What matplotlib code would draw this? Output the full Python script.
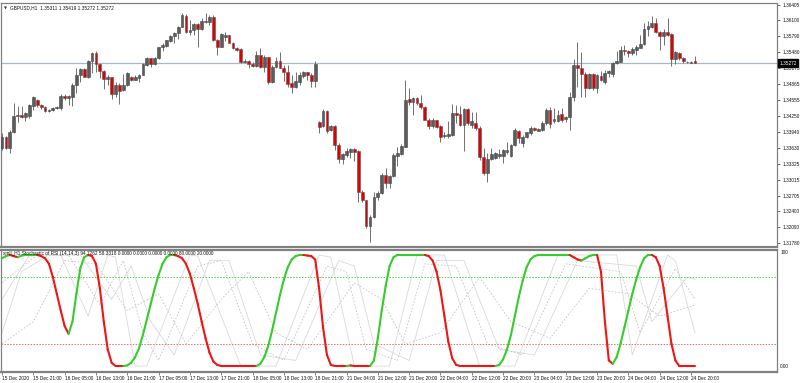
import numpy as np
import matplotlib.pyplot as plt
from matplotlib.collections import LineCollection
import matplotlib.transforms as mtransforms

plt.rcParams['font.family'] = ['Liberation Sans', 'DejaVu Sans']

# GBPUSD H1 candles
opens = [1.3363, 1.3384, 1.3363, 1.3394, 1.3425, 1.3427, 1.3423, 1.3425, 1.3444, 1.3456,
         1.3447, 1.3442, 1.3435, 1.3437, 1.3440, 1.3440, 1.3464, 1.3460, 1.3462, 1.3485,
         1.3504, 1.3515, 1.3501, 1.3532, 1.3546, 1.3525, 1.3512, 1.3497, 1.3500, 1.3468,
         1.3485, 1.3475, 1.3485, 1.3501, 1.3495, 1.3499, 1.3504, 1.3524, 1.3537, 1.3525,
         1.3537, 1.3558, 1.3561, 1.3571, 1.3579, 1.3585, 1.3598, 1.3619, 1.3587, 1.3591,
         1.3603, 1.3593, 1.3608, 1.3607, 1.3617, 1.3572, 1.3559, 1.3578, 1.3581, 1.3567,
         1.3556, 1.3554, 1.3529, 1.3532, 1.3525, 1.3522, 1.3543, 1.3520, 1.3539, 1.3490,
         1.3520, 1.3532, 1.3518, 1.3511, 1.3488, 1.3482, 1.3491, 1.3502, 1.3510, 1.3504,
         1.3493, 1.3413, 1.3405, 1.3435, 1.3398, 1.3405, 1.3368, 1.3341, 1.3349, 1.3356,
         1.3360, 1.3357, 1.3278, 1.3262, 1.3212, 1.3229, 1.3267, 1.3275, 1.3311, 1.3295,
         1.3309, 1.3347, 1.3351, 1.3365, 1.3458, 1.3451, 1.3459, 1.3450, 1.3443, 1.3418,
         1.3405, 1.3417, 1.3405, 1.3386, 1.3386, 1.3388, 1.3430, 1.3429, 1.3407, 1.3438,
         1.3407, 1.3411, 1.3402, 1.3345, 1.3314, 1.3341, 1.3343, 1.3347, 1.3347, 1.3355,
         1.3347, 1.3368, 1.3396, 1.3372, 1.3384, 1.3391, 1.3402, 1.3396, 1.3398, 1.3411,
         1.3437, 1.3416, 1.3416, 1.3428, 1.3419, 1.3422, 1.3461, 1.3524, 1.3518, 1.3506,
         1.3479, 1.3506, 1.3479, 1.3503, 1.3490, 1.3509, 1.3506, 1.3527, 1.3530, 1.3553,
         1.3550, 1.3546, 1.3553, 1.3557, 1.3564, 1.3593, 1.3597, 1.3606, 1.3587, 1.3579,
         1.3588, 1.3583, 1.3535, 1.3546, 1.3537, 1.3530, 1.3529, 1.35311]
highs = [1.3392, 1.3386, 1.3398, 1.3450, 1.3444, 1.3444, 1.3433, 1.3448, 1.3464, 1.3458,
         1.3448, 1.3444, 1.3438, 1.3442, 1.3444, 1.3468, 1.3468, 1.3466, 1.3489, 1.3518,
         1.3518, 1.3518, 1.3533, 1.3549, 1.3551, 1.3528, 1.3514, 1.3504, 1.3501, 1.3491,
         1.3489, 1.3506, 1.3510, 1.3502, 1.3504, 1.3506, 1.3528, 1.3539, 1.3538, 1.3540,
         1.3559, 1.3566, 1.3573, 1.3582, 1.3587, 1.3600, 1.3624, 1.3622, 1.3610, 1.3605,
         1.3605, 1.3614, 1.3624, 1.3621, 1.3621, 1.3574, 1.3585, 1.3587, 1.3582, 1.3569,
         1.3558, 1.3556, 1.3535, 1.3533, 1.3529, 1.3550, 1.3556, 1.3543, 1.3540, 1.3524,
         1.3539, 1.3548, 1.3524, 1.3524, 1.3504, 1.3511, 1.3511, 1.3512, 1.3511, 1.3508,
         1.3532, 1.3416, 1.3438, 1.3437, 1.3407, 1.3407, 1.3372, 1.3353, 1.3362, 1.3362,
         1.3362, 1.3359, 1.3282, 1.3263, 1.3233, 1.3278, 1.3280, 1.3314, 1.3324, 1.3311,
         1.3353, 1.3365, 1.3370, 1.3495, 1.3479, 1.3462, 1.3461, 1.3466, 1.3444, 1.3421,
         1.3421, 1.3418, 1.3407, 1.3393, 1.3415, 1.3448, 1.3446, 1.3444, 1.3440, 1.3440,
         1.3433, 1.3433, 1.3405, 1.3362, 1.3353, 1.3362, 1.3356, 1.3360, 1.3360, 1.3374,
         1.3370, 1.3401, 1.3398, 1.3388, 1.3394, 1.3405, 1.3404, 1.3402, 1.3415, 1.3440,
         1.3442, 1.3440, 1.3437, 1.3440, 1.3425, 1.3472, 1.3535, 1.3569, 1.3548, 1.3511,
         1.3509, 1.3509, 1.3506, 1.3512, 1.3514, 1.3514, 1.3530, 1.3550, 1.3561, 1.3562,
         1.3553, 1.3559, 1.3562, 1.3582, 1.3605, 1.3608, 1.3619, 1.3614, 1.3590, 1.3593,
         1.3614, 1.3585, 1.3550, 1.3548, 1.3539, 1.3532, 1.3531, 1.35419]
lows = [1.3359, 1.3361, 1.3353, 1.3392, 1.3413, 1.3421, 1.3415, 1.3421, 1.3437, 1.3442,
        1.3438, 1.3433, 1.3433, 1.3435, 1.3438, 1.3437, 1.3456, 1.3446, 1.3444, 1.3470,
        1.3491, 1.3500, 1.3499, 1.3508, 1.3510, 1.3499, 1.3477, 1.3485, 1.3458, 1.3462,
        1.3448, 1.3473, 1.3483, 1.3493, 1.3495, 1.3491, 1.3504, 1.3522, 1.3520, 1.3524,
        1.3535, 1.3551, 1.3559, 1.3568, 1.3567, 1.3575, 1.3597, 1.3585, 1.3582, 1.3582,
        1.3559, 1.3591, 1.3605, 1.3601, 1.3571, 1.3543, 1.3558, 1.3571, 1.3566, 1.3554,
        1.3550, 1.3528, 1.3528, 1.3517, 1.3520, 1.3520, 1.3517, 1.3511, 1.3486, 1.3488,
        1.3517, 1.3517, 1.3493, 1.3481, 1.3469, 1.3479, 1.3485, 1.3498, 1.3495, 1.3482,
        1.3482, 1.3391, 1.3404, 1.3391, 1.3396, 1.3359, 1.3334, 1.3332, 1.3346, 1.3343,
        1.3338, 1.3259, 1.3259, 1.3207, 1.3181, 1.3227, 1.3262, 1.3274, 1.3285, 1.3285,
        1.3307, 1.3327, 1.3349, 1.3364, 1.3446, 1.3427, 1.3446, 1.3439, 1.3417, 1.3399,
        1.3402, 1.3401, 1.3375, 1.3382, 1.3382, 1.3386, 1.3411, 1.3405, 1.3357, 1.3407,
        1.3401, 1.3398, 1.3340, 1.3311, 1.3297, 1.3340, 1.3341, 1.3343, 1.3334, 1.3351,
        1.3346, 1.3367, 1.3372, 1.3365, 1.3382, 1.3388, 1.3396, 1.3395, 1.3396, 1.3407,
        1.3401, 1.3412, 1.3414, 1.3414, 1.3414, 1.3398, 1.3454, 1.3482, 1.3462, 1.3462,
        1.3477, 1.3475, 1.3470, 1.3493, 1.3487, 1.3500, 1.3500, 1.3526, 1.3529, 1.3543,
        1.3540, 1.3543, 1.3543, 1.3556, 1.3562, 1.3579, 1.3595, 1.3585, 1.3553, 1.3562,
        1.3579, 1.3522, 1.3526, 1.3533, 1.3528, 1.3528, 1.3528, 1.35272]
closes = [1.3384, 1.3363, 1.3394, 1.3425, 1.3427, 1.3422, 1.3431, 1.3446, 1.3461, 1.3446,
          1.3442, 1.3435, 1.3437, 1.3441, 1.3442, 1.3464, 1.3460, 1.3463, 1.3485, 1.3504,
          1.3515, 1.3501, 1.3532, 1.3546, 1.3525, 1.3512, 1.3497, 1.3500, 1.3468, 1.3485,
          1.3474, 1.3485, 1.3509, 1.3495, 1.3501, 1.3504, 1.3525, 1.3537, 1.3525, 1.3538,
          1.3558, 1.3562, 1.3572, 1.3580, 1.3585, 1.3598, 1.3621, 1.3587, 1.3591, 1.3603,
          1.3593, 1.3608, 1.3607, 1.3617, 1.3572, 1.3559, 1.3583, 1.3581, 1.3567, 1.3556,
          1.3553, 1.3529, 1.3532, 1.3525, 1.3522, 1.3543, 1.3520, 1.3540, 1.3490, 1.3520,
          1.3532, 1.3518, 1.3511, 1.3487, 1.3481, 1.3493, 1.3504, 1.3510, 1.3504, 1.3493,
          1.3526, 1.3403, 1.3435, 1.3396, 1.3405, 1.3368, 1.3341, 1.3351, 1.3357, 1.3361,
          1.3355, 1.3278, 1.3262, 1.3212, 1.3229, 1.3267, 1.3276, 1.3311, 1.3295, 1.3309,
          1.3349, 1.3353, 1.3367, 1.3456, 1.3451, 1.3459, 1.3450, 1.3443, 1.3418, 1.3405,
          1.3417, 1.3404, 1.3384, 1.3388, 1.3389, 1.3430, 1.3427, 1.3407, 1.3438, 1.3411,
          1.3415, 1.3402, 1.3345, 1.3314, 1.3341, 1.3351, 1.3353, 1.3351, 1.3359, 1.3358,
          1.3368, 1.3398, 1.3382, 1.3385, 1.3393, 1.3402, 1.3398, 1.3400, 1.3411, 1.3437,
          1.3409, 1.3419, 1.3427, 1.3417, 1.3422, 1.3461, 1.3524, 1.3518, 1.3506, 1.3479,
          1.3506, 1.3479, 1.3504, 1.3495, 1.3509, 1.3512, 1.3528, 1.3532, 1.3553, 1.3550,
          1.3546, 1.3555, 1.3559, 1.3564, 1.3593, 1.3599, 1.3606, 1.3587, 1.3579, 1.3588,
          1.3582, 1.3535, 1.3548, 1.3537, 1.3532, 1.3529, 1.3528, 1.35272]

# Stochastic of RSI main line, one value per bar
stoch = [97, 99, 100, 99, 98, 99.5, 100, 100, 100, 100,
         99, 97, 92, 80, 65, 50, 36, 29, 40, 65,
         88, 98, 100, 99, 92, 70, 40, 15, 3, 0,
         0, 0, 0.5, 3, 8, 16, 28, 42, 56, 70,
         82, 92, 98, 100, 100, 99, 97, 92, 83, 70,
         56, 40, 25, 12, 4, 1, 0, 0, 0, 0,
         0, 0, 0, 0, 0, 0, 2, 8, 18, 32,
         48, 64, 78, 89, 96, 99, 100, 100, 99.5, 99,
         96, 70, 35, 10, 1, 0, 0, 0, 0, 0.5,
         0, 0, 0, 0, 0, 5, 25, 50, 72, 90,
         98, 100, 100, 100, 100, 100, 100, 100, 100, 99,
         95, 85, 68, 45, 22, 7, 1, 0, 0, 0,
         0, 0, 0, 0, 0, 0, 0, 1, 6, 15,
         28, 45, 62, 77, 89, 96, 99, 100, 100, 100,
         100, 100, 100, 100, 100, 100, 98, 96, 95, 97,
         99, 100, 100, 85, 40, 5, 2, 8, 20, 35,
         50, 65, 78, 89, 97, 100, 100, 98, 90, 70,
         45, 20, 5, 0, 0, 0, 0, 0]

# other (lagging) stochastic lines, drawn thin grey: (bar, value) knots
grey1_x = [0, 7, 15, 22, 27, 29, 34, 37, 48, 50, 61, 70, 81, 84, 90, 99, 106, 113, 122, 131, 142, 157, 161, 170, 172, 177]
grey1_y = [60, 100, 100, 45, 100, 98, 0, 0, 100, 99, 0, 0, 100, 98, 0, 0, 100, 100, 0, 0, 100, 100, 10, 100, 95, 30]
grey2_x = [0, 5, 12, 20, 28, 33, 38, 44, 53, 58, 66, 75, 86, 90, 95, 104, 111, 118, 127, 136, 147, 162, 166, 175, 177]
grey2_y = [30, 85, 100, 100, 60, 90, 40, 10, 95, 95, 10, 5, 95, 90, 20, 5, 95, 95, 15, 10, 95, 90, 40, 80, 78]
grey3_x = [0, 9, 17, 25, 31, 36, 40, 50, 56, 64, 72, 83, 88, 93, 101, 108, 116, 124, 133, 144, 158, 163, 172, 177]
grey3_y = [75, 100, 100, 55, 95, 30, 5, 90, 95, 20, 5, 90, 85, 15, 5, 92, 90, 20, 10, 92, 85, 30, 88, 60]
grey4_x = [0, 8, 16, 24, 32, 40, 47, 56, 63, 70, 78, 90, 97, 103, 112, 122, 130, 140, 150, 160, 168, 177]
grey4_y = [20, 40, 95, 92, 50, 65, 20, 60, 85, 30, 15, 75, 60, 20, 30, 80, 40, 25, 70, 65, 45, 55]

price_ticks = [1.36405, 1.36100, 1.35790, 1.35480, 1.35175, 1.34865, 1.34555, 1.34250,
               1.33940, 1.33630, 1.33325, 1.33015, 1.32705, 1.32400, 1.32090, 1.31780]
time_labels = ['15 Dec 2020', '15 Dec 21:00', '16 Dec 05:00', '16 Dec 13:00', '16 Dec 21:00',
               '17 Dec 05:00', '17 Dec 13:00', '17 Dec 21:00', '18 Dec 05:00', '18 Dec 13:00',
               '18 Dec 21:00', '21 Dec 04:00', '21 Dec 12:00', '21 Dec 20:00', '22 Dec 04:00',
               '22 Dec 12:00', '22 Dec 20:00', '23 Dec 04:00', '23 Dec 12:00', '23 Dec 20:00',
               '24 Dec 04:00', '24 Dec 12:00', '24 Dec 20:00']
last_price = 1.35272

fs = 3.4
frame = '#808080'

fig = plt.figure(figsize=(8, 3.83), dpi=100)
ax = fig.add_axes([1 / 800, 136 / 383, 776 / 800, 244 / 383])
ax2 = fig.add_axes([1 / 800, 11 / 383, 776 / 800, 122 / 383])

n = len(closes)
xs = np.arange(n)
o = np.array(opens)
h = np.array(highs)
l = np.array(lows)
c = np.array(closes)
up = c >= o

# candles
ax.vlines(xs, l, h, color='#707070', lw=0.7, zorder=2)
body_b = np.minimum(o, c)
body_h = np.maximum(np.abs(c - o), 0.00004)
ax.bar(xs[up], body_h[up], bottom=body_b[up], width=0.72, color='#5c5c5c',
       edgecolor='#444444', linewidth=0.4, zorder=3)
ax.bar(xs[~up], body_h[~up], bottom=body_b[~up], width=0.72, color='#e00000',
       edgecolor='#555555', linewidth=0.4, zorder=3)

ax.axhline(last_price, color='#a9b8c8', lw=0.9, zorder=1)

xmin = -0.255
xmax = 197.96
ax.set_xlim(xmin, xmax)
ax.set_ylim(1.31710, 1.36438)
ax.set_xticks([])
ax.yaxis.tick_right()
ax.set_yticks(price_ticks)
ax.set_yticklabels(['%.5f' % p for p in price_ticks])
ax.tick_params(axis='y', direction='out', length=2.5, width=0.6, pad=1.2,
               labelsize=fs, color='#555555', labelcolor='#111111')
for s in ax.spines.values():
    s.set_color(frame)
    s.set_linewidth(0.9)
ax.spines['bottom'].set_linewidth(1.6)

trans = mtransforms.blended_transform_factory(ax.transAxes, ax.transData)
ax.text(1.003, last_price, '%.5f' % last_price, transform=trans, ha='left', va='center',
        fontsize=fs, color='white',
        bbox=dict(boxstyle='square,pad=0.3', fc='black', ec='black'))

fig.text(4 / 800, 1 - 8 / 383, '\u25bc', fontsize=2.8, color='#333333', va='center',
         family='DejaVu Sans')
fig.text(10 / 800, 1 - 8 / 383, 'GBPUSD,H1  1.35311 1.35419 1.35272 1.35272',
         fontsize=fs, color='#111111', va='center')

# indicator panel
for gx, gy, st, col in [(grey1_x, grey1_y, '-', '#d9d9d9'), (grey2_x, grey2_y, '-', '#d9d9d9'),
                        (grey3_x, grey3_y, (0, (2, 2)), '#c4c4c4'),
                        (grey4_x, grey4_y, (0, (2, 2)), '#c4c4c4')]:
    ax2.plot(gx, gy, color=col, lw=0.6, linestyle=st, zorder=1)

ax2.axhline(80, color='#55cc55', lw=0.7, linestyle=(0, (1.5, 1.5)), zorder=1)
ax2.axhline(20, color='#ee6a6a', lw=0.7, linestyle=(0, (1.5, 1.5)), zorder=1)

sv = np.array(stoch, dtype=float)
segs = []
cols = []
prev = '#36cc2c'
for i in range(1, n):
    segs.append([(i - 1, sv[i - 1]), (i, sv[i])])
    if sv[i] > sv[i - 1]:
        prev = '#36cc2c'
    elif sv[i] < sv[i - 1]:
        prev = '#f01414'
    cols.append(prev)
lc = LineCollection(segs, colors=cols, linewidths=1.5, capstyle='round', zorder=3)
ax2.add_collection(lc)

ax2.set_xlim(xmin, xmax)
ax2.set_ylim(-5.4, 104.5)
ax2.set_yticks([])
ax2.set_xticks(np.arange(0, n, 8))
ax2.set_xticklabels(time_labels)
ax2.tick_params(axis='x', direction='out', length=2, width=0.5, pad=1.2,
                labelsize=fs, color='#555555', labelcolor='#111111')
for lbl in ax2.get_xticklabels():
    lbl.set_ha('left')
for s in ax2.spines.values():
    s.set_color(frame)
    s.set_linewidth(0.9)
ax2.spines['top'].set_linewidth(1.6)
ax2.spines['bottom'].set_linewidth(1.6)

ax2.text(1.004, 102, '100', transform=mtransforms.blended_transform_factory(ax2.transAxes, ax2.transData),
         ha='left', va='center', fontsize=fs, color='#111111')
ax2.text(1.004, 0, '0.00', transform=mtransforms.blended_transform_factory(ax2.transAxes, ax2.transData),
         ha='left', va='center', fontsize=fs, color='#111111')
ax2.text(3, 101.5, 'xmll_H1 Stochastic of RSI (14,14,3) 94.7262 58.3318 0.0000 0.0000 0.0000 0.0000 80.0000 20.0000',
         transform=mtransforms.blended_transform_factory(mtransforms.IdentityTransform(), ax2.transData),
         ha='left', va='center', fontsize=fs, color='#111111', zorder=5)

fig.savefig('out.png', dpi=100, facecolor='white')
